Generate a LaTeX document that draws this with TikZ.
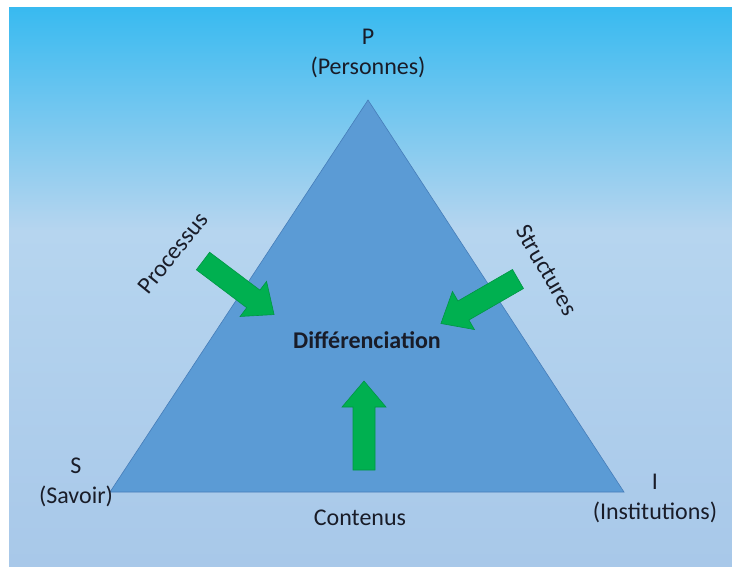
\documentclass[tikz,border=0pt]{standalone}
\usepackage{fontspec}
\setmainfont{Carlito}
\usepackage{tikz}
\usetikzlibrary{calc}

\definecolor{bgtop}{RGB}{56,186,240}
\definecolor{bgmid}{RGB}{182,213,239}
\definecolor{bgbottom}{RGB}{168,200,233}
\definecolor{trifill}{RGB}{91,155,213}
\definecolor{triline}{RGB}{70,125,185}
\definecolor{arrowgreen}{RGB}{0,176,80}
\definecolor{txt}{RGB}{25,28,40}
\pgfdeclareverticalshading{bgshade}{100bp}{color(0bp)=(bgbottom); color(25bp)=(bgbottom); color(55bp)=(bgmid); color(75bp)=(bgtop); color(100bp)=(bgtop)}

\tikzset{
  lbl/.style={text=txt, align=center, font=\fontsize{24}{30}\selectfont, inner sep=0pt},
  bigarrow/.pic={\filldraw[fill=arrowgreen, draw=arrowgreen!85!black, line width=0.6pt] (0,-11) -- (63,-11) -- (63,-22) -- (89,0) -- (63,22) -- (63,11) -- (0,11) -- cycle;}
}

\begin{document}
\begin{tikzpicture}[x=1pt,y=-1pt]
\useasboundingbox (0,0) rectangle (732,566);
\fill[white] (0,0) rectangle (732,566);
\shade[shading=bgshade] (9,7) rectangle (732,566);
\coordinate (P) at (368,100);
\coordinate (S) at (110,492);
\coordinate (I) at (624,492);
\filldraw[fill=trifill, draw=triline, line width=0.6pt] (P) -- (S) -- (I) -- cycle;
\node[lbl] (ptop) at (368,53) {P\\(Personnes)};
\node[lbl] (sleft) at (76,482) {S\\(Savoir)};
\node[lbl] (iright) at (655,498) {I\\(Institutions)};
\node[lbl] (cont) at (360,518) {Contenus};
\node[lbl, font=\fontsize{24}{30}\selectfont\bfseries] (diff) at (367,340) {Différenciation};
\node[lbl, rotate=51] (proc) at (173,253) {Processus};
\node[lbl, rotate=-60] (struc) at (547,270) {Structures};
\pic[rotate=-37] at (203,261) {bigarrow};
\pic[rotate=210] at (518,279) {bigarrow};
\pic[rotate=90] at (364,470) {bigarrow};
\end{tikzpicture}
\end{document}
